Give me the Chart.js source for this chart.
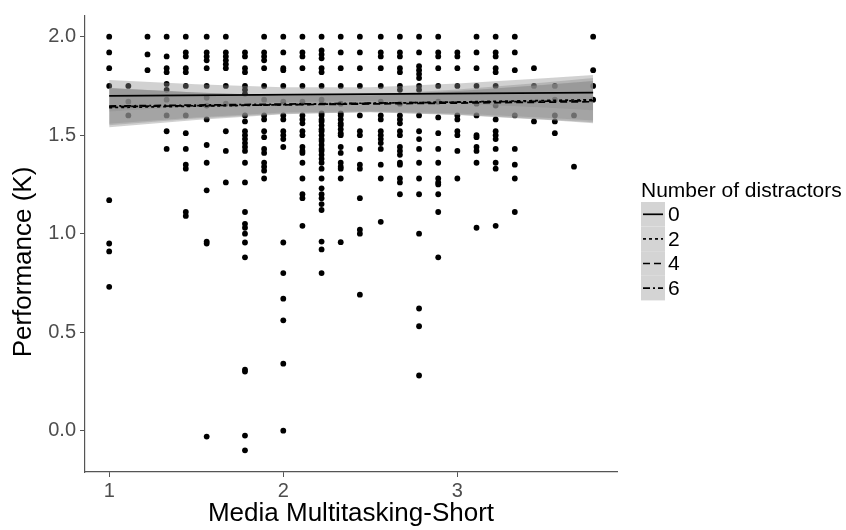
<!DOCTYPE html>
<html>
<head>
<meta charset="utf-8">
<script src="https://cdn.jsdelivr.net/npm/chart.js@4.4.1/dist/chart.umd.min.js"></script>
<style>
    html, body { margin: 0; padding: 0; background: #fff; }
    #wrap { width: 846px; height: 530px; position: relative; }
</style>
</head>
<body>
<div id="wrap"><canvas id="chart" width="846" height="530"></canvas></div>
<script>
// media multitasking levels (x) and the performance values seen in each column
const mmsLevels = [1.00, 1.11, 1.22, 1.33, 1.44, 1.56, 1.67, 1.78, 1.89, 2.00, 2.11, 2.22, 2.33,
    2.44, 2.56, 2.67, 2.78, 2.89, 3.00, 3.11, 3.22, 3.33, 3.44, 3.56, 3.67, 3.78];

const perfByLevel = [
    [2.0, 1.92, 1.84, 1.75, 1.17, 0.95, 0.91, 0.73],
    [1.75, 1.67, 1.6],
    [2.0, 1.91, 1.83],
    [2.0, 1.9, 1.84, 1.82, 1.76, 1.73, 1.68, 1.6, 1.52, 1.43],
    [2.0, 1.92, 1.9, 1.84, 1.82, 1.75, 1.6, 1.51, 1.43, 1.35, 1.33, 1.11, 1.09],
    [2.0, 1.92, 1.9, 1.88, 1.84, 1.75, 1.69, 1.65, 1.58, 1.45, 1.36, 1.22, 0.96, 0.95, -0.03],
    [2.0, 1.92, 1.9, 1.88, 1.86, 1.84, 1.75, 1.66, 1.52, 1.42, 1.26],
    [1.92, 1.9, 1.84, 1.82, 1.75, 1.73, 1.71, 1.6, 1.57, 1.52, 1.5, 1.48, 1.46, 1.44, 1.42, 1.36,
        1.26, 1.11, 1.05, 1.03, 1.0, 0.955, 0.88, 0.31, 0.3, -0.025, -0.10],
    [2.0, 1.92, 1.9, 1.88, 1.84, 1.75, 1.68, 1.6, 1.58, 1.52, 1.49, 1.43, 1.41, 1.36, 1.34, 1.32, 1.28],
    [2.0, 1.92, 1.84, 1.83, 1.75, 1.67, 1.6, 1.58, 1.52, 1.5, 1.48, 1.44, 0.955, 0.8, 0.67, 0.56, 0.34, 0.0],
    [2.0, 1.92, 1.9, 1.84, 1.75, 1.67, 1.6, 1.58, 1.56, 1.52, 1.5, 1.44, 1.42, 1.41, 1.36, 1.28, 1.2, 1.18, 1.04],
    [2.0, 1.93, 1.91, 1.89, 1.84, 1.82, 1.75, 1.68, 1.61, 1.6, 1.58, 1.57, 1.55, 1.53, 1.52, 1.5, 1.48,
        1.47, 1.45, 1.43, 1.42, 1.4, 1.38, 1.36, 1.33, 1.28, 1.23, 1.2, 1.18, 1.15, 1.12, 0.96, 0.92, 0.8],
    [2.0, 1.92, 1.84, 1.75, 1.66, 1.61, 1.6, 1.58, 1.56, 1.55, 1.53, 1.51, 1.5, 1.44, 1.41, 1.36, 1.34,
        1.33, 1.28, 0.957],
    [2.0, 1.92, 1.84, 1.75, 1.6, 1.52, 1.5, 1.43, 1.35, 1.33, 1.18, 1.02, 1.0, 0.69],
    [2.0, 1.92, 1.9, 1.84, 1.75, 1.67, 1.6, 1.58, 1.52, 1.5, 1.48, 1.46, 1.43, 1.35, 1.28, 1.06],
    [2.0, 1.92, 1.9, 1.84, 1.82, 1.75, 1.73, 1.66, 1.6, 1.58, 1.56, 1.52, 1.5, 1.44, 1.42, 1.4, 1.36,
        1.35, 1.28, 1.26, 1.2],
    [2.0, 1.92, 1.85, 1.83, 1.81, 1.79, 1.75, 1.73, 1.6, 1.52, 1.48, 1.43, 1.36, 1.28, 1.2, 1.0, 0.62, 0.53, 0.28],
    [2.0, 1.92, 1.9, 1.84, 1.75, 1.67, 1.59, 1.51, 1.43, 1.36, 1.28, 1.26, 1.25, 1.2, 1.11, 0.88],
    [1.92, 1.9, 1.84, 1.75, 1.6, 1.58, 1.52, 1.5, 1.42, 1.28],
    [2.0, 1.92, 1.84, 1.75, 1.66, 1.6, 1.5, 1.49, 1.44, 1.42, 1.36, 1.03],
    [2.0, 1.92, 1.9, 1.84, 1.82, 1.75, 1.65, 1.58, 1.52, 1.5, 1.48, 1.43, 1.36, 1.33, 1.04],
    [2.0, 1.92, 1.83, 1.6, 1.43, 1.35, 1.28, 1.11],
    [1.84, 1.75, 1.57],
    [1.75, 1.68, 1.6, 1.57, 1.51],
    [1.6, 1.34],
    [2.0, 1.83, 1.75, 1.68],
];

// fitted lines per number of distractors (values at both ends of the x range)
const distractors = ["0", "2", "4", "6"];
const fitX = [1.0, 3.78];
const fit0 = [1.700, 1.716];
const fit2 = [1.640, 1.680];
const fit4 = [1.645, 1.670];
const fit6 = [1.648, 1.675];

// confidence bands, read at a few x positions
const bandX = [1.0, 1.5, 2.0, 2.5, 3.0, 3.5, 3.78];
const band0Upper = [1.780, 1.759, 1.743, 1.743, 1.762, 1.789, 1.806];
const band0Lower = [1.620, 1.648, 1.669, 1.673, 1.660, 1.640, 1.626];
const band2Upper = [1.740, 1.717, 1.702, 1.707, 1.732, 1.768, 1.790];
const band2Lower = [1.540, 1.577, 1.606, 1.617, 1.604, 1.578, 1.560];
const band4Upper = [1.740, 1.716, 1.699, 1.702, 1.723, 1.756, 1.775];
const band4Lower = [1.550, 1.584, 1.609, 1.616, 1.603, 1.580, 1.565];
const band6Upper = [1.738, 1.716, 1.701, 1.703, 1.724, 1.755, 1.775];
const band6Lower = [1.558, 1.590, 1.615, 1.621, 1.610, 1.589, 1.575];

const xTicks = [1, 2, 3];
const yTicks = [0, 0.5, 1.0, 1.5, 2.0];

const FONT = "'Liberation Sans', Arial, sans-serif";
const AXIS_GREY = "#555555";
const BAND_FILL = "rgba(140, 140, 140, 0.4)";
const dashes = [[], [3, 3], [7, 4], [7, 3, 2, 3]];

const fits = [fit0, fit2, fit4, fit6];
const bands = [
    [band0Upper, band0Lower],
    [band2Upper, band2Lower],
    [band4Upper, band4Lower],
    [band6Upper, band6Lower],
];

const toXY = (xs, ys) => xs.map((x, i) => ({ x, y: ys[i] }));

const points = [];
mmsLevels.forEach((x, i) => {
    perfByLevel[i].forEach((y) => points.push({ x, y }));
});

const datasets = [
    {
        data: points,
        backgroundColor: "#000",
        borderColor: "#000",
        pointRadius: 2.9,
        pointBorderWidth: 0,
        order: 3,
    },
];

bands.forEach(([upper, lower]) => {
    datasets.push({
        type: "line",
        data: toXY(bandX, upper),
        showLine: true,
        borderWidth: 0,
        pointRadius: 0,
        fill: false,
        order: 2,
    });
    datasets.push({
        type: "line",
        data: toXY(bandX, lower),
        showLine: true,
        borderWidth: 0,
        pointRadius: 0,
        backgroundColor: BAND_FILL,
        fill: "-1",
        order: 2,
    });
});

fits.forEach((fit, i) => {
    datasets.push({
        type: "line",
        data: toXY(fitX, fit),
        showLine: true,
        borderColor: "#000",
        borderWidth: 1.7,
        borderDash: dashes[i],
        pointRadius: 0,
        fill: false,
        order: 1,
    });
});

// ggplot-like legend on the right, and the y axis title
const legendPlugin = {
    id: "distractorLegend",
    afterDraw(chart) {
        const ctx = chart.ctx;
        const left = 641;
        const top = 202;
        const keyW = 24;
        const keyH = 24.6;
        ctx.save();
        ctx.fillStyle = "#000";
        ctx.font = `21px ${FONT}`;
        ctx.textBaseline = "alphabetic";
        ctx.fillText("Number of distractors", left, 197);
        distractors.forEach((label, i) => {
            const y = top + i * keyH;
            ctx.fillStyle = "#d4d4d4";
            ctx.fillRect(left, y, keyW, keyH);
            ctx.strokeStyle = "#000";
            ctx.lineWidth = 1.7;
            ctx.setLineDash(dashes[i]);
            ctx.beginPath();
            ctx.moveTo(left + 2, y + keyH / 2);
            ctx.lineTo(left + keyW - 2, y + keyH / 2);
            ctx.stroke();
            ctx.setLineDash([]);
            ctx.fillStyle = "#000";
            ctx.textBaseline = "middle";
            ctx.fillText(label, left + 27, y + keyH / 2 + 1);
        });

        ctx.translate(24, 262);
        ctx.rotate(-Math.PI / 2);
        ctx.font = `26px ${FONT}`;
        ctx.textAlign = "center";
        ctx.textBaseline = "middle";
        ctx.fillText("Performance (K)", 0, 0);
        ctx.restore();
    },
};

new Chart(document.getElementById("chart"), {
    type: "scatter",
    data: { datasets },
    options: {
        responsive: false,
        animation: false,
        events: [],
        layout: { padding: { top: 9, right: 229, left: 0, bottom: 0 } },
        plugins: {
            legend: { display: false },
            tooltip: { enabled: false },
        },
        scales: {
            x: {
                type: "linear",
                min: 0.861,
                max: 3.917,
                afterBuildTicks(scale) {
                    scale.ticks = xTicks.map((v) => ({ value: v }));
                },
                afterFit(scale) {
                    scale.height = 58;
                },
                border: { display: true, color: AXIS_GREY, width: 1.2 },
                grid: { drawOnChartArea: false, drawTicks: true, tickLength: 5, color: AXIS_GREY },
                ticks: {
                    color: "#4d4d4d",
                    font: { family: FONT, size: 20 },
                    padding: 2,
                    maxRotation: 0,
                    callback: (v) => String(v),
                },
                title: {
                    display: true,
                    text: "Media Multitasking-Short",
                    color: "#000",
                    font: { family: FONT, size: 26 },
                    padding: { top: 0, bottom: 1 },
                },
            },
            y: {
                type: "linear",
                min: -0.21,
                max: 2.105,
                afterBuildTicks(scale) {
                    scale.ticks = yTicks.map((v) => ({ value: v }));
                },
                afterFit(scale) {
                    scale.width = 85;
                },
                border: { display: true, color: AXIS_GREY, width: 1.2 },
                grid: { drawOnChartArea: false, drawTicks: true, tickLength: 5, color: AXIS_GREY },
                ticks: {
                    color: "#4d4d4d",
                    font: { family: FONT, size: 20 },
                    padding: 4,
                    callback: (v) => v.toFixed(1),
                },
            },
        },
    },
    plugins: [legendPlugin],
});
</script>
</body>
</html>
